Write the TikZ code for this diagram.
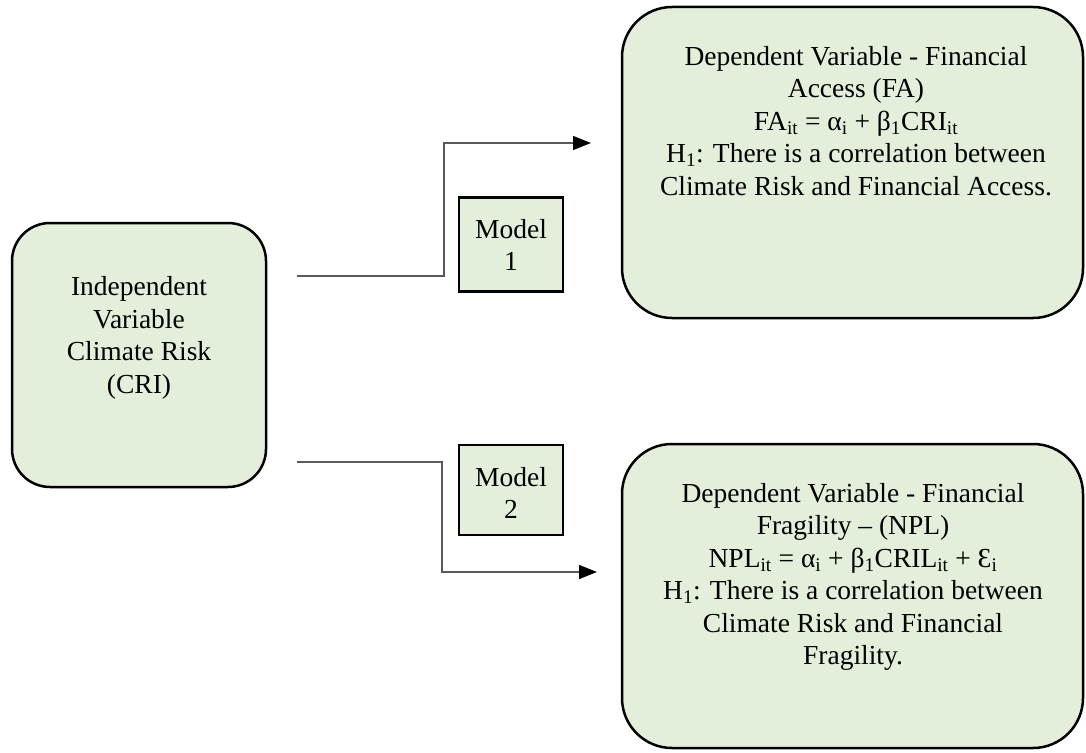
\documentclass[tikz,border=0pt]{standalone}
\usepackage{fontspec}
\setmainfont{Liberation Serif}
\usetikzlibrary{arrows.meta}
\definecolor{boxgreen}{RGB}{227,239,218}
\definecolor{wiregray}{RGB}{90,90,90}

\begin{document}
\begin{tikzpicture}[
    x=1pt, y=-1pt,
    varbox/.style={draw,line width=2.5pt,fill=boxgreen,rectangle,inner sep=0pt},
    modelbox/.style={draw,line width=2.2pt,fill=boxgreen,rectangle,inner sep=0pt,
      minimum width=104pt,minimum height=94pt},
    boxtext/.style={align=center,inner sep=0pt,font=\fontsize{27.5}{32.5}\selectfont},
    wire/.style={draw=wiregray,line width=1.4pt},
    wirearrow/.style={wire,-{Triangle[length=18pt,width=14pt,color=black]}}
    ]

    \useasboundingbox (0,0) rectangle (1086,752);

    % variable boxes:
    \node (cri) at (139, 355) [varbox,rounded corners=38pt,minimum width=254pt,minimum height=264pt] {};
    \node (fa) at (852.5, 162.5) [varbox,rounded corners=50pt,minimum width=461pt,minimum height=311pt] {};
    \node (npl) at (852.5, 596) [varbox,rounded corners=50pt,minimum width=461pt,minimum height=304pt] {};

    % model boxes:
    \node (m1) at (511, 244.5) [modelbox] {};
    \node (m2) at (511, 490) [modelbox,minimum height=90pt] {};

    % texts:
    \node (critext) at (139, 338) [boxtext] {Independent\\Variable\\Climate Risk\\(CRI)};
    \node (fatext) at (856, 121) [boxtext] {Dependent Variable - Financial\\Access (FA)\\
      FA\textsubscript{it} = α\textsubscript{i} + β\textsubscript{1}CRI\textsubscript{it}\\
      H\textsubscript{1}: There is a correlation between\\Climate Risk and Financial Access.};
    \node (npltext) at (853, 577) [boxtext] {Dependent Variable - Financial\\Fragility – (NPL)\\
      NPL\textsubscript{it} = α\textsubscript{i} + β\textsubscript{1}CRIL\textsubscript{it} + Ɛ\textsubscript{i}\\
      H\textsubscript{1}: There is a correlation between\\Climate Risk and Financial\\Fragility.};
    \node (m1text) at (511, 245) [boxtext] {Model\\1};
    \node (m2text) at (511, 493) [boxtext] {Model\\2};

    % connections:
    \coordinate (w1) at (297, 276);
    \coordinate (w2) at (297, 462);
    \coordinate (t1) at (591, 143);
    \coordinate (t2) at (597, 572);

    \draw [wirearrow] (w1) -- (444, 276) |- (t1);
    \draw [wirearrow] (w2) -- (442, 462) |- (t2);

  \end{tikzpicture}
\end{document}
